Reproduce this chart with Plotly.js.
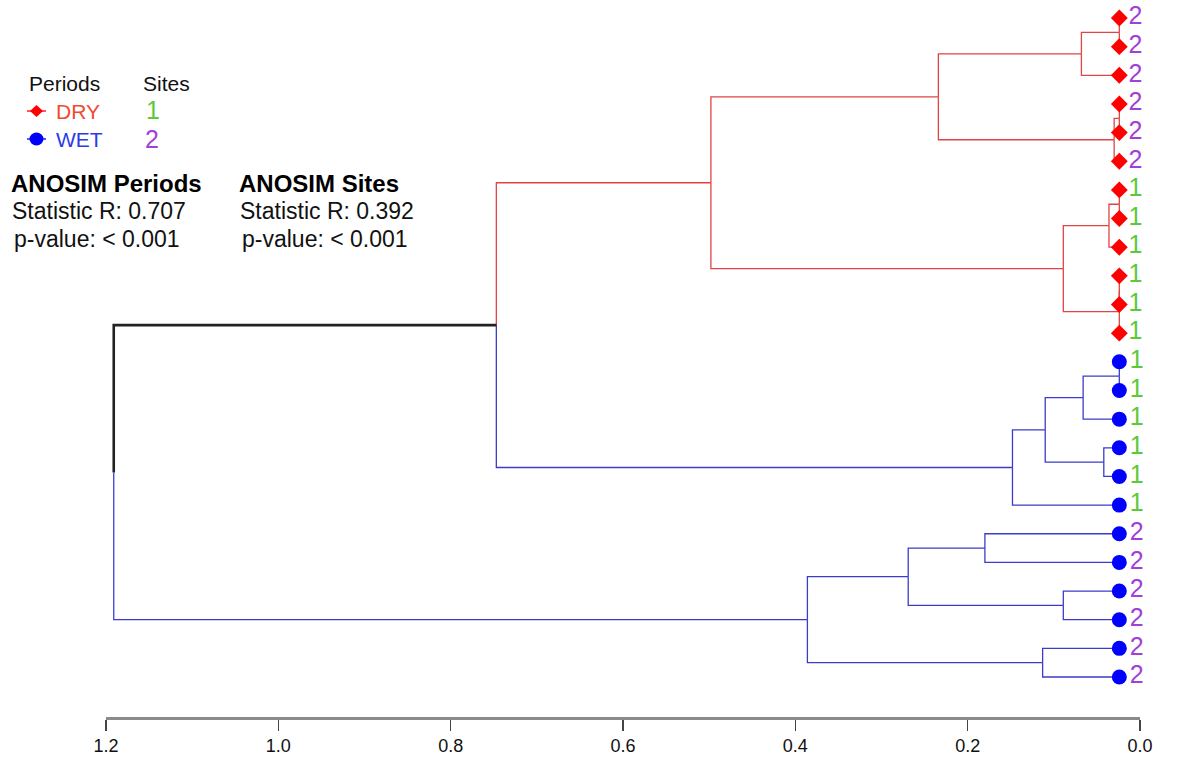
<!DOCTYPE html>
<html><head><meta charset="utf-8">
<script src="https://cdn.plot.ly/plotly-3.0.1.min.js"></script>
<style>html,body{margin:0;padding:0;background:#fff}#chart{width:1184px;height:760px}</style>
</head><body><div id="chart"></div>
<script>
// ---- data (leaves listed top to bottom) ----
const leafPeriods = ["DRY","DRY","DRY","DRY","DRY","DRY","DRY","DRY","DRY","DRY","DRY","DRY",
                     "WET","WET","WET","WET","WET","WET","WET","WET","WET","WET","WET","WET"];
const leafSites = ["2","2","2","2","2","2","1","1","1","1","1","1",
                   "1","1","1","1","1","1","2","2","2","2","2","2"];
const leafHeight = 0.024;
// hclust-style merges: negative = leaf position, positive = earlier merge
const mergeLeft   = [-1, 1, -4, 3, 2, -7, 6, -10, 8, 7, 5, -13, 12, -16, 13, 15, 11, -19, -21, 18, -23, 20, 17];
const mergeRight  = [-2, -3, -5, -6, 4, -8, -9, -11, -12, 9, 10, -14, -15, -17, 14, -18, 16, -20, -22, 19, -24, 21, 22];
const mergeHeights= [0.024, 0.068, 0.024, 0.030, 0.234, 0.024, 0.036, 0.024, 0.024, 0.089, 0.498,
                     0.024, 0.066, 0.042, 0.110, 0.148, 0.747, 0.180, 0.089, 0.269, 0.113, 0.386, 1.191];
const tickValues = [1.2, 1.0, 0.8, 0.6, 0.4, 0.2, 0.0];
const tickLabels = ["1.2", "1.0", "0.8", "0.6", "0.4", "0.2", "0.0"];

const periodLineColor = {DRY: "#e04444", WET: "#3c3ccc", MIX: "#222222"};
const periodLineWidth = {DRY: 1.3, WET: 1.3, MIX: 2.6};
const siteColor = {"1": "#5cc93a", "2": "#a23fd6"};

// ---- build tree geometry ----
function nodeInfo(id) {
  if (id < 0) {
    const i = -id - 1;
    return {y: i + 1, h: leafHeight, grp: leafPeriods[i]};
  }
  return nodes[id - 1];
}
const nodes = [];
const segs = {DRY: {x: [], y: []}, WET: {x: [], y: []}, MIX: {x: [], y: []}};
for (let k = 0; k < mergeHeights.length; k++) {
  const a = nodeInfo(mergeLeft[k]), b = nodeInfo(mergeRight[k]);
  const node = {y: (a.y + b.y) / 2, h: mergeHeights[k], grp: a.grp === b.grp ? a.grp : "MIX"};
  nodes.push(node);
  [a, b].forEach(c => {
    const s = segs[c.grp];
    s.x.push(node.h, node.h, c.h, null);
    s.y.push(node.y, c.y, c.y, null);
  });
}

const traces = [];
["DRY", "WET", "MIX"].forEach(g => {
  traces.push({type: "scatter", mode: "lines", x: segs[g].x, y: segs[g].y,
    line: {color: periodLineColor[g], width: periodLineWidth[g]}, hoverinfo: "skip", showlegend: false});
});
const markerStyle = {DRY: {symbol: "diamond", color: "#ff0000", size: 13},
                     WET: {symbol: "circle", color: "#0000ff", size: 15}};
["DRY", "WET"].forEach(g => {
  const xs = [], ys = [], tx = [], tc = [];
  leafPeriods.forEach((p, i) => {
    if (p === g) { xs.push(leafHeight); ys.push(i + 1); tx.push(leafSites[i]); tc.push(siteColor[leafSites[i]]); }
  });
  traces.push({type: "scatter", mode: "markers+text", x: xs, y: ys, text: tx,
    textposition: "middle right", cliponaxis: false,
    textfont: {family: "Liberation Sans, Arial, sans-serif", size: 25, color: tc},
    marker: {symbol: markerStyle[g].symbol, color: markerStyle[g].color, size: markerStyle[g].size, line: {width: 0}},
    hoverinfo: "skip", showlegend: false});
});

// ---- pixel helpers for decorations ----
const L = 106, R = 1140, T = 0, B = 717;
const px = p => (p - L) / (R - L);
const py = p => (B - p) / (B - T);
const font = (size, color) => ({family: "Liberation Sans, Arial, sans-serif", size: size, color: color});
function ann(text, x, y, size, color, bold) {
  return {text: bold ? "<b>" + text + "</b>" : text, x: px(x), y: py(y), xref: "paper", yref: "paper",
    xanchor: "left", yanchor: "middle", showarrow: false, font: font(size, color)};
}
const annotations = [
  ann("Periods", 27, 84, 21, "#111"),
  ann("Sites", 141, 84, 21, "#111"),
  ann("DRY", 54, 111, 21, "#f04a30"),
  ann("WET", 54, 139, 21, "#2a3be8"),
  ann("1", 144, 110, 25, siteColor["1"]),
  ann("2", 143, 139, 25, siteColor["2"]),
  ann("ANOSIM Periods", 9, 183, 24, "#000", true),
  ann("ANOSIM Sites", 237, 183, 24, "#000", true),
  ann("Statistic R: 0.707", 10, 211, 23, "#111"),
  ann("p-value: &lt; 0.001", 12, 239, 23, "#111"),
  ann("Statistic R: 0.392", 238, 211, 23, "#111"),
  ann("p-value: &lt; 0.001", 240, 239, 23, "#111")
];
const shapes = [
  {type: "line", xref: "paper", yref: "paper", x0: px(27), x1: px(46), y0: py(111), y1: py(111), line: {color: "#ff2020", width: 1.5}},
  {type: "path", xref: "paper", yref: "paper", fillcolor: "#ff0000", line: {width: 0},
   path: `M${px(36.5-6.5)},${py(111)} L${px(36.5)},${py(105)} L${px(36.5+6.5)},${py(111)} L${px(36.5)},${py(117)} Z`},
  {type: "line", xref: "paper", yref: "paper", x0: px(27), x1: px(46), y0: py(139), y1: py(139), line: {color: "#2020ff", width: 1.5}},
  {type: "circle", xref: "paper", yref: "paper", fillcolor: "#0000ff", line: {width: 0},
   x0: px(36.5-7), x1: px(36.5+7), y0: py(139-6.5), y1: py(139+6.5)}
];

const layout = {
  width: 1184, height: 760,
  margin: {l: L, r: 1184 - R, t: T, b: 760 - B, pad: 0},
  paper_bgcolor: "#fff", plot_bgcolor: "#fff",
  showlegend: false,
  xaxis: {range: [1.2, 0.0], showgrid: false, zeroline: false, showline: true,
    linecolor: "#8a8a8a", linewidth: 2.5, ticks: "outside", ticklen: 11, tickwidth: 1.2, tickcolor: "#444",
    tickvals: tickValues, ticktext: tickLabels,
    tickfont: {family: "Liberation Sans, Arial, sans-serif", size: 18, color: "#111"}},
  yaxis: {range: [25.396, 0.372], visible: false},
  annotations: annotations,
  shapes: shapes
};
Plotly.newPlot("chart", traces, layout, {displayModeBar: false, staticPlot: true});
</script></body></html>
